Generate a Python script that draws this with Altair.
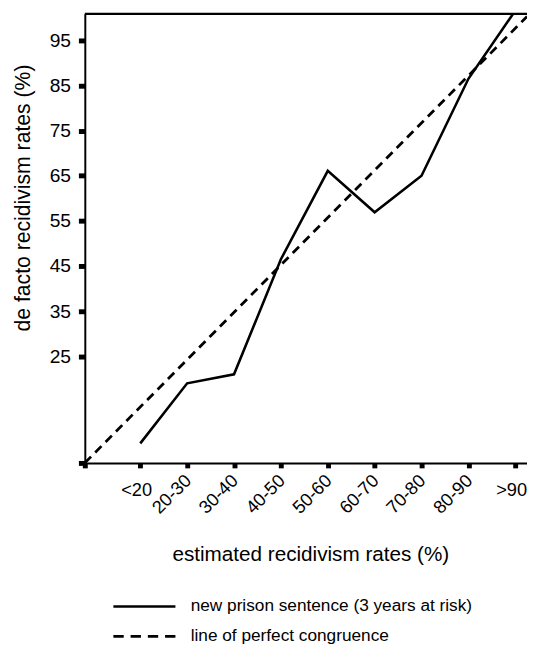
import altair as alt
import pandas as pd

# ---- data ----
categories = ["<20", "20-30", "30-40", "40-50", "50-60", "60-70", "70-80", "80-90", ">90"]
cat_pos = [1, 2, 3, 4, 5, 6, 7, 8, 9]
observed = [5.7, 19.0, 21.0, 46.5, 66.1, 56.9, 65.0, 86.5, 101.6]
congruence_pos = [-0.183, 9.25]
congruence_val = [1.36, 100.3]
y_tick_values = [1.36, 25, 35, 45, 55, 65, 75, 85, 95]
x_tick_values = [-0.183, 1, 2, 3, 4, 5, 6, 7, 8, 9]
series_names = ["new prison sentence (3 years at risk)", "line of perfect congruence"]
x_title = "estimated recidivism rates (%)"
y_title = "de facto recidivism rates (%)"

FONT = "Liberation Sans"
W, H = 449, 456

obs_df = pd.DataFrame({"pos": cat_pos, "val": observed, "cat": categories})
cong_df = pd.DataFrame({"pos": congruence_pos, "val": congruence_val})
mid_df = pd.DataFrame({"pos": cat_pos[1:-1], "cat": categories[1:-1]})
end_df = pd.DataFrame({"pos": [cat_pos[0], cat_pos[-1]], "cat": [categories[0], categories[-1]]})

xs = alt.Scale(domain=[-0.183, 9.25], nice=False, zero=False)
ys = alt.Scale(domain=[1.36, 100.89], nice=False, zero=False)

x_axis = alt.Axis(
    values=x_tick_values, labels=False, grid=False,
    tickSize=5, tickWidth=5, tickColor="black",
    domainColor="black", domainWidth=2,
    title=x_title, titleFont=FONT, titleFontSize=21, titleFontWeight="normal",
    titleColor="black", titleX=229, titleY=99.5, titleAlign="center",
    titleBaseline="alphabetic",
)
y_axis = alt.Axis(
    values=y_tick_values, labelExpr="datum.value < 10 ? '' : datum.label",
    grid=False, tickSize=6.5, tickWidth=5, tickColor="black",
    domainColor="black", domainWidth=2,
    labelFont=FONT, labelFontSize=19.5, labelColor="black", labelPadding=8,
    title=y_title, titleFont=FONT, titleFontSize=21.5, titleFontWeight="normal",
    titleColor="black", titleX=-62, titleY=186.5, titleAngle=270,
    titleAlign="center", titleBaseline="middle",
)

X = alt.X("pos:Q", scale=xs, axis=x_axis)
Y = alt.Y("val:Q", scale=ys, axis=y_axis)

solid = alt.Chart(obs_df).mark_line(color="black", strokeWidth=2.6, clip=True).encode(x=X, y=Y)
dashed = alt.Chart(cong_df).mark_line(
    color="black", strokeWidth=2.8, strokeDash=[9, 6], clip=True
).encode(x=X, y=Y)

mid_labels = alt.Chart(mid_df).mark_text(
    angle=315, align="right", baseline="middle", font=FONT, fontSize=18.5,
    color="black", xOffset=1,
).encode(x=X, y=alt.value(471), text="cat:N")
end_labels = alt.Chart(end_df).mark_text(
    align="right", baseline="middle", font=FONT, fontSize=18.5,
    color="black", xOffset=12,
).encode(x=X, y=alt.value(483.5), text="cat:N")

one = pd.DataFrame({"k": [0]})
top_border = alt.Chart(one).mark_rule(color="black", strokeWidth=2.2).encode(
    x=alt.value(0), x2=alt.value(W), y=alt.value(0)
)

leg_solid = alt.Chart(one).mark_rule(color="black", strokeWidth=2.6).encode(
    x=alt.value(29), x2=alt.value(92), y=alt.value(601.7)
)
leg_dash = alt.Chart(one).mark_rule(color="black", strokeWidth=2.8, strokeDash=[10.5, 7]).encode(
    x=alt.value(29), x2=alt.value(92), y=alt.value(632)
)
leg_t1 = alt.Chart(one).mark_text(
    align="left", baseline="alphabetic", font=FONT, fontSize=17.5, color="black"
).encode(x=alt.value(107.5), y=alt.value(606.7), text=alt.value(series_names[0]))
leg_t2 = alt.Chart(one).mark_text(
    align="left", baseline="alphabetic", font=FONT, fontSize=17.5, color="black"
).encode(x=alt.value(107.5), y=alt.value(636.7), text=alt.value(series_names[1]))

chart = alt.layer(
    dashed, solid, mid_labels, end_labels, top_border,
    leg_solid, leg_dash, leg_t1, leg_t2,
).properties(
    width=W, height=H,
    autosize=alt.AutoSizeParams(type="none"),
    padding={"left": 78, "top": 1, "right": 0, "bottom": 184},
).configure(font=FONT).configure_view(stroke=None)

chart.save("out.html", embed_options={"renderer": "svg", "actions": False})
